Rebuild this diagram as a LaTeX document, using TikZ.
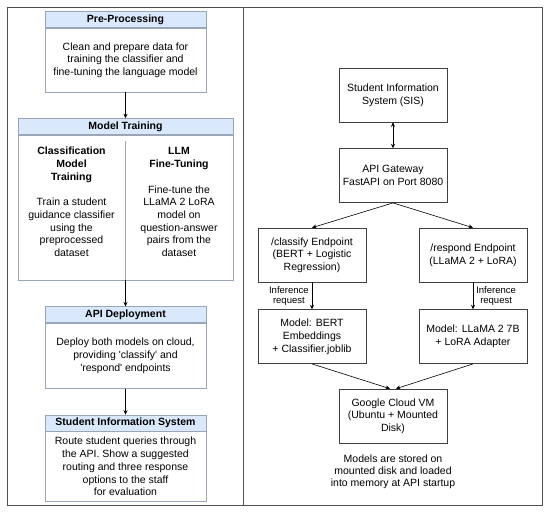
\documentclass[tikz,border=0pt]{standalone}
\usepackage{fontspec}
\setmainfont{Liberation Sans}
\usetikzlibrary{positioning,arrows.meta}
\definecolor{headblue}{HTML}{DAE8FC}
\definecolor{edgegray}{HTML}{9AA6B8}
\definecolor{framegray}{HTML}{505050}

\begin{document}
\begin{tikzpicture}[x=1pt,y=-1pt,->,line width=0.6pt,
    >={Stealth[length=4.5pt,width=4pt]},
    font=\fontsize{10.5}{12.7}\selectfont,
    head/.style={draw=edgegray, fill=headblue, font=\fontsize{10.5}{12.7}\selectfont\bfseries, inner sep=0pt, minimum height=16pt},
    body/.style={draw=edgegray, align=center, inner sep=0pt},
    coltitle/.style={align=center, inner sep=2pt, font=\fontsize{10.5}{12.7}\selectfont\bfseries},
    coltext/.style={align=center, inner sep=2pt},
    box/.style={draw=black!75, align=center, minimum width=108pt, minimum height=54pt, inner sep=2pt},
    lbl/.style={align=center, inner sep=3pt, font=\fontsize{9.5}{10}\selectfont}]
            \useasboundingbox (0,0) rectangle (550,513);
            \draw[-, framegray] (7,7) rectangle (542,505);
            \draw[-, framegray] (243,7) -- (243,505);

            % left panel
            \node[body, minimum width=161pt, minimum height=64pt] (pre) at (125.5,60) {Clean and prepare data for\\training the classifier and\\fine-tuning the language model};
            \node[head, minimum width=161pt, above=0pt of pre] (prehead) {Pre-Processing};
            \node[head, minimum width=215pt, below=26pt of pre] (trainhead) {Model Training};
            \node[body, minimum width=215pt, minimum height=145pt, below=0pt of trainhead] (train) {};
            \coordinate (split) at ([yshift=-6pt]trainhead.south);
            \draw[-, edgegray] (split) -- (train.south);
            \node[coltitle, anchor=north] (clstitle) at (71.5,145) {Classification\\Model\\Training};
            \node[coltext, anchor=south] (clstext) at (71.5,259) {Train a student\\guidance classifier\\using the\\preprocessed\\dataset};
            \node[coltitle, anchor=north] (llmtitle) at (179,145) {LLM\\Fine-Tuning};
            \node[coltext, anchor=south] (llmtext) at (179,259) {Fine-tune the\\LLaMA 2 LoRA\\model on\\question-answer\\pairs from the\\dataset};
            \node[head, minimum width=161pt, below=26pt of train] (apihead) {API Deployment};
            \node[body, minimum width=161pt, minimum height=65pt, below=0pt of apihead] (api) {Deploy both models on cloud,\\providing \textquotesingle classify\textquotesingle{} and\\\textquotesingle respond\textquotesingle{} endpoints};
            \node[head, minimum width=161pt, below=26pt of api] (sishead) {Student Information System};
            \node[body, minimum width=161pt, minimum height=70pt, below=0pt of sishead] (sis) {Route student queries through\\the API. Show a suggested\\routing and three response\\options to the staff\\for evaluation};

            % right panel
            \node[box] (sisr) at (393,95) {Student Information\\System (SIS)};
            \node[box, below=26pt of sisr] (gw) {API Gateway\\FastAPI on Port 8080};
            \node[box] (cls) at (312,255) {/classify Endpoint\\(BERT + Logistic\\Regression)};
            \node[box] (rsp) at (473,255) {/respond Endpoint\\(LLaMA 2 + LoRA)};
            \node[box, below=27pt of cls] (bert) {Model: BERT\\Embeddings\\+ Classifier.joblib};
            \node[box, below=27pt of rsp] (llama) {Model: LLaMA 2 7B\\+ LoRA Adapter};
            \node[box] (vm) at (393,416) {Google Cloud VM\\(Ubuntu + Mounted\\Disk)};
            \node[align=center, below=8pt of vm, font=\fontsize{10.5}{12}\selectfont] (store) {Models are stored on\\mounted disk and loaded\\into memory at API startup};

            \path
            (pre) edge (trainhead)
            (train) edge (apihead)
            (api) edge (sishead)
            (sisr) edge[<->] (gw)
            (gw.south) edge (cls.north)
            (gw.south) edge (rsp.north)
            (cls) edge node[left, lbl] {Inference\\request} (bert)
            (rsp) edge node[right, lbl] {Inference\\request} (llama)
            (bert.south) edge ([xshift=-3pt]vm.north)
            (llama.south) edge ([xshift=3pt]vm.north);

\end{tikzpicture}
\end{document}
